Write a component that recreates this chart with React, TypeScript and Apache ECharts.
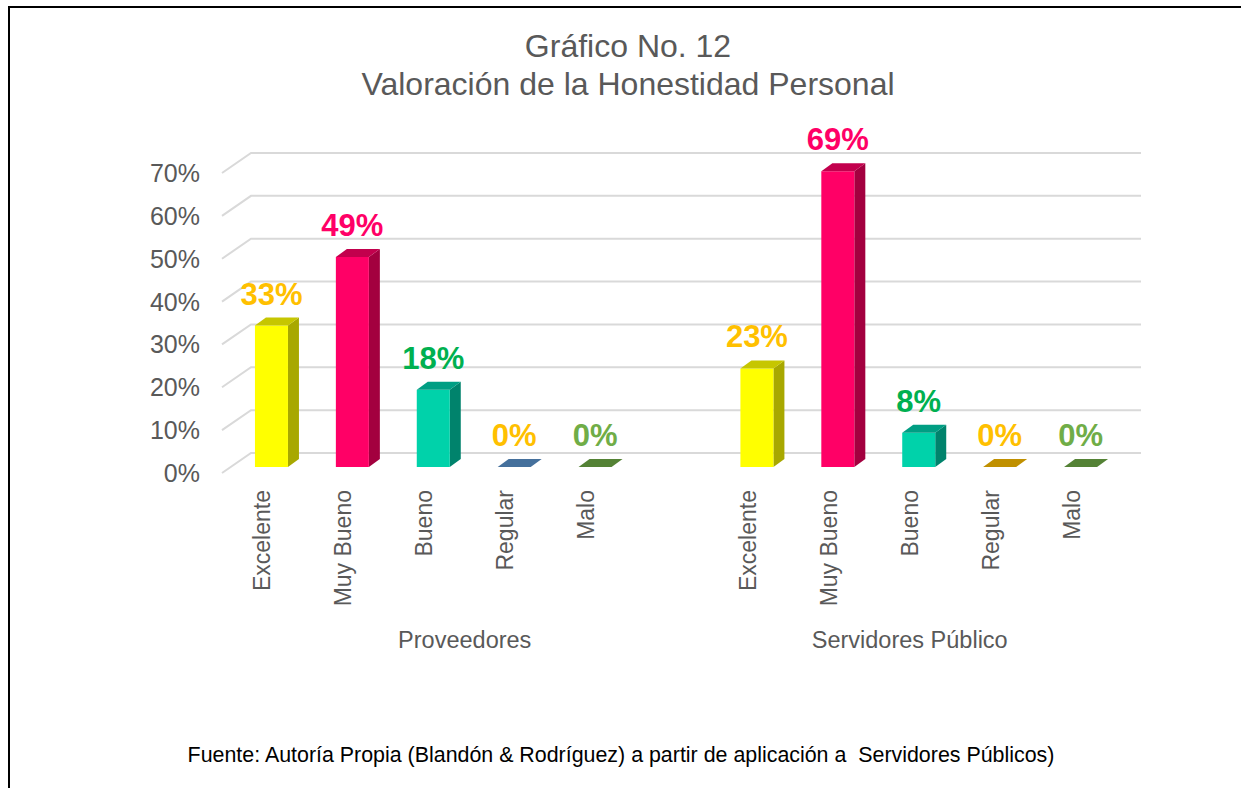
import React, { useEffect, useRef } from "react";
import * as echarts from "echarts";

const categories = ["Excelente", "Muy Bueno", "Bueno", "Regular", "Malo"];
const groups = ["Proveedores", "Servidores Público"];
const proveedores = [33, 49, 18, 0, 0];
const servidores = [23, 69, 8, 0, 0];
const yTicks = [0, 10, 20, 30, 40, 50, 60, 70];

const titleLine1 = "Gráfico No. 12";
const titleLine2 = "Valoración de la Honestidad Personal";
const footnote = "Fuente: Autoría Propia (Blandón & Rodríguez) a partir de aplicación a  Servidores Públicos)";

// styles
const frontColors = [
  ["#FFFF00", "#FF0066", "#00D2AA", "#45709C", "#548235"],
  ["#FFFF00", "#FF0066", "#00D2AA", "#C09000", "#548235"],
];
const sideColors = [
  ["#A8A800", "#A3003F", "#00836C", "#45709C", "#548235"],
  ["#A8A800", "#A3003F", "#00836C", "#C09000", "#548235"],
];
const topColors = [
  ["#C6C600", "#C2004D", "#009E83", "#45709C", "#548235"],
  ["#C6C600", "#C2004D", "#009E83", "#C09000", "#548235"],
];
const labelColors = ["#FFC000", "#FF0066", "#00B050", "#FFC000", "#70AD47"];

const FONT = "'Liberation Sans', Arial, Helvetica, sans-serif";
const BAR_W = 33;
const OFF_X = 9;
const OFF_Y = -6;
const BAR_DX = 11;
const BAR_DY = -8;
const WALL_DX = 29;
const WALL_DY = 20;

const xCategories = [...categories, "", ...categories];
const groupSpans = [
  [0, categories.length],
  [categories.length + 1, categories.length * 2],
];

export default function App() {
  const ref = useRef<HTMLDivElement>(null);

  useEffect(() => {
    if (!ref.current) return;
    const chart = echarts.init(ref.current, undefined, { renderer: "svg" });

    const barData: number[][] = [];
    proveedores.forEach((v, i) => barData.push([i, v, 0, i]));
    servidores.forEach((v, i) => barData.push([i + categories.length + 1, v, 1, i]));

    const option: any = {
      animation: false,
      backgroundColor: "#ffffff",
      grid: { left: 222, right: 129, top: 173, bottom: 315, containLabel: false },
      xAxis: {
        type: "category",
        data: xCategories,
        axisLine: { show: false },
        axisTick: { show: false },
        axisLabel: {
          interval: 0,
          rotate: 90,
          margin: 17,
          color: "#595959",
          fontSize: 23,
          fontFamily: FONT,
        },
      },
      yAxis: {
        type: "value",
        min: 0,
        max: 70,
        interval: 10,
        axisLine: { show: false },
        axisTick: { show: false },
        splitLine: { show: false },
        axisLabel: {
          formatter: "{value}%",
          margin: 22,
          color: "#595959",
          fontSize: 25,
          fontFamily: FONT,
        },
      },
      series: [
        {
          type: "custom",
          clip: false,
          silent: true,
          data: yTicks.map((v) => [0, v]),
          renderItem: (params: any, api: any) => {
            const v = api.value(1);
            const band = api.size([1, 0])[0];
            const p0 = api.coord([0, v]);
            const p1 = api.coord([xCategories.length - 1, v]);
            const left = p0[0] - band / 2;
            const right = p1[0] + band / 2;
            const y = p0[1];
            return {
              type: "polyline",
              shape: {
                points: [
                  [left, y],
                  [left + WALL_DX, y - WALL_DY],
                  [right + WALL_DX, y - WALL_DY],
                ],
              },
              style: { stroke: "#D9D9D9", lineWidth: 2, fill: null },
            };
          },
        },
        {
          type: "custom",
          clip: false,
          silent: true,
          data: barData,
          renderItem: (params: any, api: any) => {
            const idx = api.value(0);
            const val = api.value(1);
            const g = api.value(2);
            const c = api.value(3);
            const base = api.coord([idx, 0]);
            const top = api.coord([idx, val]);
            const x0 = base[0] + OFF_X - BAR_W / 2;
            const x1 = x0 + BAR_W;
            const yB = base[1] + OFF_Y;
            const yT = top[1] + OFF_Y;
            const children: any[] = [];
            if (yB - yT > 0.5) {
              children.push({
                type: "polygon",
                shape: {
                  points: [
                    [x1, yT],
                    [x1 + BAR_DX, yT + BAR_DY],
                    [x1 + BAR_DX, yB + BAR_DY],
                    [x1, yB],
                  ],
                },
                style: { fill: sideColors[g][c] },
              });
              children.push({
                type: "rect",
                shape: { x: x0, y: yT, width: BAR_W, height: yB - yT },
                style: { fill: frontColors[g][c] },
              });
            }
            children.push({
              type: "polygon",
              shape: {
                points: [
                  [x0, yT],
                  [x0 + BAR_DX, yT + BAR_DY],
                  [x1 + BAR_DX, yT + BAR_DY],
                  [x1, yT],
                ],
              },
              style: { fill: topColors[g][c] },
            });
            children.push({
              type: "text",
              x: (x0 + x1) / 2,
              y: yT - 16,
              style: {
                text: val + "%",
                fill: labelColors[c],
                fontSize: 31,
                fontWeight: "bold",
                fontFamily: FONT,
                align: "center",
                verticalAlign: "bottom",
                textAlign: "center",
                textVerticalAlign: "bottom",
              },
            });
            return { type: "group", children };
          },
        },
        {
          type: "custom",
          clip: false,
          silent: true,
          data: groupSpans.map((s) => [s[0], 0, s[1]]),
          renderItem: (params: any, api: any) => {
            const a = api.coord([api.value(0), 0]);
            const b = api.coord([api.value(2), 0]);
            return {
              type: "text",
              x: (a[0] + b[0]) / 2,
              y: a[1] + 167,
              style: {
                text: groups[params.dataIndex],
                fill: "#595959",
                fontSize: 23.5,
                fontFamily: FONT,
                align: "center",
                verticalAlign: "middle",
                textAlign: "center",
                textVerticalAlign: "middle",
              },
            };
          },
        },
      ],
      graphic: [
        {
          type: "polyline",
          shape: { points: [[9, 788], [9, 7], [1241, 7]] },
          style: { stroke: "#000000", lineWidth: 2, fill: null },
          silent: true,
        },
        {
          type: "text",
          x: 628,
          y: 46,
          style: {
            text: titleLine1,
            fill: "#595959",
            fontSize: 32,
            fontFamily: FONT,
            align: "center",
            verticalAlign: "middle",
            textAlign: "center",
            textVerticalAlign: "middle",
          },
        },
        {
          type: "text",
          x: 628,
          y: 84,
          style: {
            text: titleLine2,
            fill: "#595959",
            fontSize: 32,
            fontFamily: FONT,
            align: "center",
            verticalAlign: "middle",
            textAlign: "center",
            textVerticalAlign: "middle",
          },
        },
        {
          type: "text",
          x: 621,
          y: 755,
          style: {
            text: footnote,
            fill: "#000000",
            fontSize: 21.4,
            fontFamily: FONT,
            align: "center",
            verticalAlign: "middle",
            textAlign: "center",
            textVerticalAlign: "middle",
          },
        },
      ],
    };

    chart.setOption(option);
    return () => chart.dispose();
  }, []);

  return (
    <div
      ref={ref}
      style={{ position: "absolute", left: 0, top: 0, width: 1241, height: 788, background: "#fff" }}
    />
  );
}
